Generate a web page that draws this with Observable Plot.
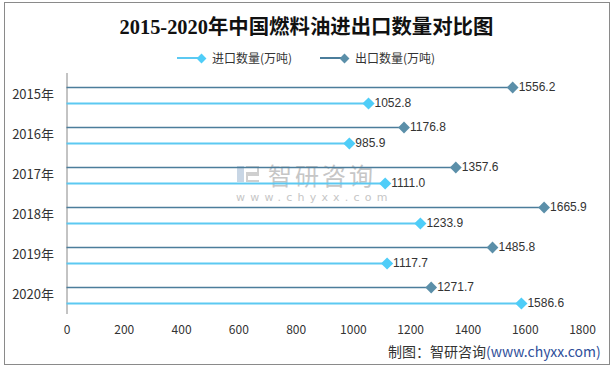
<!DOCTYPE html>
<html><head><meta charset="utf-8">
<script src="https://cdn.jsdelivr.net/npm/d3@7"></script>
<script src="https://cdn.jsdelivr.net/npm/@observablehq/plot@0.6"></script>
<style>
html,body{margin:0;padding:0;background:#fff;}
#wrap{position:relative;width:613px;height:369px;overflow:hidden;font-family:"Noto Sans CJK SC","Noto Sans",sans-serif;}
#frame{position:absolute;left:4px;top:2px;width:604px;height:361px;border:1px solid #8a8a8a;box-sizing:content-box;}
#title{position:absolute;left:0;top:10px;width:613px;text-align:center;font-family:"Liberation Serif","Noto Sans CJK SC",serif;font-weight:bold;font-size:20.4px;color:#111;}
#legend{position:absolute;top:49px;left:0;width:613px;font-size:12px;color:#333;}
.li{position:absolute;top:0;height:18px;line-height:18px;white-space:nowrap;}
.ln{position:absolute;top:8px;height:2px;width:22px;}
.dm{position:absolute;top:5.5px;width:7px;height:7px;transform:rotate(45deg);}
#chart{position:absolute;left:0;top:70px;}
#foot{position:absolute;left:388px;top:341px;font-size:14px;color:#333;white-space:nowrap;}
#foot span{color:#2f4f9a;}
#wm{position:absolute;left:236px;top:160px;color:#c8c8c8;pointer-events:none;}
</style></head>
<body><div id="wrap">
<div id="frame"></div>
<div id="title">2015-2020年中国燃料油进出口数量对比图</div>
<div id="legend"></div>
<div id="wm"></div>
<div id="chart"></div>
<div id="foot">制图：智研咨询<span>(www.chyxx.com)</span></div>
</div>
<script>
const years = ["2015年","2016年","2017年","2018年","2019年","2020年"];
const imports = [1052.8, 985.9, 1111.0, 1233.9, 1117.7, 1586.6];
const exports = [1556.2, 1176.8, 1357.6, 1665.9, 1485.8, 1271.7];
const xTicks = [0,200,400,600,800,1000,1200,1400,1600,1800];
const seriesNames = ["进口数量(万吨)","出口数量(万吨)"];
const lightColor = "#4fcdf8";
const lightLine = "#5cc9f2";
const darkColor = "#5b8fa9";
const darkLine = "#4b7d9b";

const impData = years.map((y,i)=>({year:y, value:imports[i]}));
const expData = years.map((y,i)=>({year:y, value:exports[i]}));

// legend
const leg = document.getElementById("legend");
[[177, lightLine, lightColor, seriesNames[0]],[320, darkLine, darkColor, seriesNames[1]]].forEach(([x,lc,dc,t])=>{
  const d = document.createElement("div"); d.className="li"; d.style.left=x+"px"; d.style.width="140px";
  d.innerHTML = `<div class="ln" style="left:0;background:${lc}"></div><div class="dm" style="left:21px;background:${dc}"></div><div style="position:absolute;left:35px;top:0">${t}</div>`;
  leg.appendChild(d);
});

// watermark
document.getElementById("wm").innerHTML =
 `<div style="position:absolute;left:1px;top:6px;width:23px;height:16px;">
   <div style="position:absolute;left:0;top:0;width:7px;height:16px;background:#c8d6e5"></div>
   <div style="position:absolute;left:9px;top:0;width:13px;height:8px;border:2.5px solid #cfcfcf;border-left:none;box-sizing:border-box"></div>
   <div style="position:absolute;left:9px;top:8px;width:13px;height:8px;border:2.5px solid #cfcfcf;border-right:none;box-sizing:border-box"></div>
  </div>
  <div style="position:absolute;left:32px;top:3px;font-size:24px;line-height:24px;letter-spacing:3px;white-space:nowrap;color:#c6c6c6">智研咨询</div>
  <div style="position:absolute;left:0;top:32px;font-size:11px;line-height:11px;letter-spacing:5.2px;white-space:nowrap;font-family:'DejaVu Sans';color:#c6c6c6">www.chyxx.com</div>`;

const chart = Plot.plot({
  width: 613,
  height: 275,
  marginLeft: 66.5,
  marginRight: 31,
  marginTop: 3,
  marginBottom: 31,
  style: {fontFamily: "'Noto Sans CJK SC','Noto Sans',sans-serif", fontSize: "12px", color: "#333", background: "transparent"},
  x: {domain: [0,1800], label: null},
  y: {type: "point", domain: years, padding: 0.5, label: null},
  marks: [
    Plot.axisY({tickSize:0, tickPadding: 13, fontSize: 13, fill:"#333", label: null}),
    Plot.axisX({ticks: xTicks, tickSize:0, tickPadding: 11, fontSize: 12, fill:"#333", label: null, tickFormat: d=>String(d)}),
    Plot.ruleX([0], {stroke: "#888", strokeWidth: 1}),
    Plot.ruleY(expData, {y:"year", x1: 0, x2:"value", dy:-7, stroke: darkLine, strokeWidth: 1.5}),
    Plot.ruleY(impData, {y:"year", x1: 0, x2:"value", dy:9, stroke: lightLine, strokeWidth: 2}),
    Plot.dot(expData, {y:"year", x:"value", dy:-7, symbol:"diamond2", r:5.3, fill: darkColor, stroke:"none"}),
    Plot.dot(impData, {y:"year", x:"value", dy:9, symbol:"diamond2", r:5.5, fill: lightColor, stroke:"none"}),
    Plot.text(expData, {y:"year", x:"value", dy:-7, dx:6, text: d=>d.value.toFixed(1), textAnchor:"start", fill:"#333", fontSize:12, fontFamily:"'Liberation Sans',sans-serif"}),
    Plot.text(impData, {y:"year", x:"value", dy:9, dx:6, text: d=>d.value.toFixed(1), textAnchor:"start", fill:"#333", fontSize:12, fontFamily:"'Liberation Sans',sans-serif"})
  ]
});
document.getElementById("chart").appendChild(chart);
</script>
</body></html>
